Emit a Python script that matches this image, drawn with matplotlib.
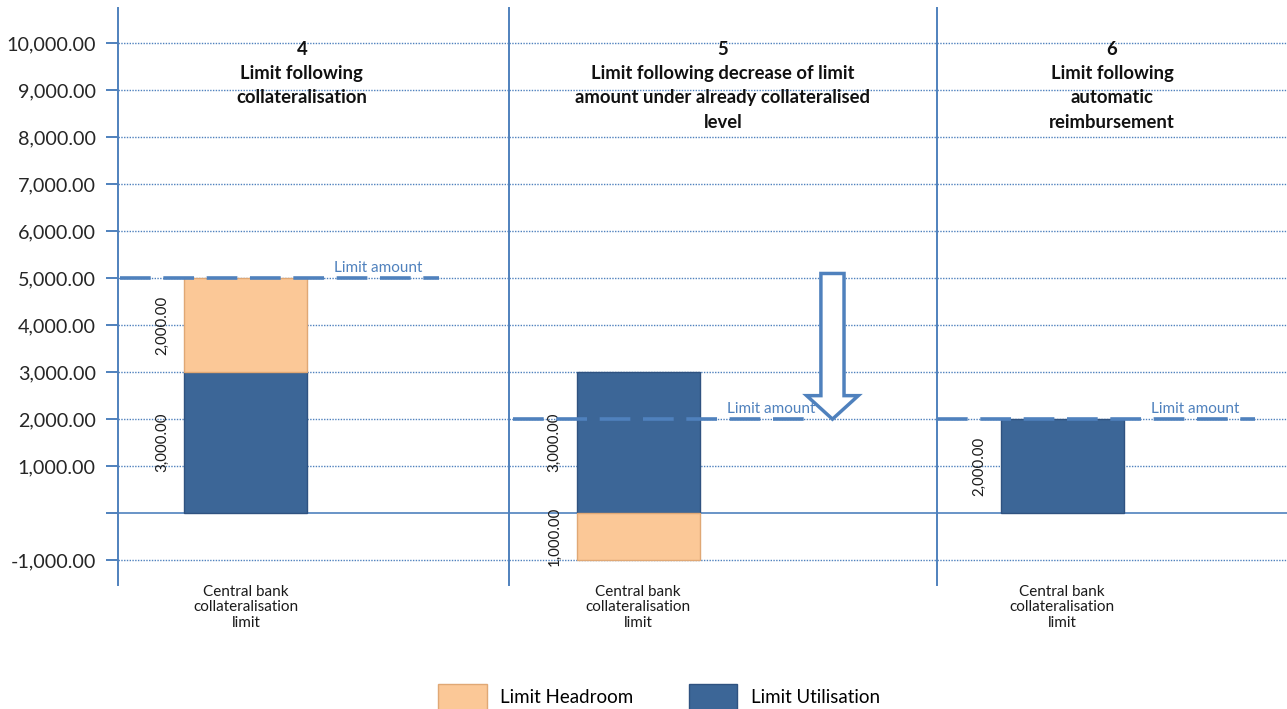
import matplotlib
matplotlib.use("Agg")
import matplotlib.pyplot as plt
from matplotlib.patches import Patch, Polygon

# ---------------- data ----------------
panel_titles = [
    "4\nLimit following\ncollateralisation",
    "5\nLimit following decrease of limit\namount under already collateralised\nlevel",
    "6\nLimit following\nautomatic\nreimbursement",
]
category = "Central bank\ncollateralisation\nlimit"
utilisation = [3000, 3000, 2000]
headroom = [2000, -1000, 0]
limit_amount = [5000, 2000, 2000]
previous_limit = 5100   # top of the "decrease" arrow in panel 5
y_ticks = list(range(-1000, 10001, 1000))
y_tick_labels = ["" if v == 0 else f"{v:,.2f}" for v in y_ticks]

# ---------------- style ----------------
BLUE = "#3c6697"
PEACH = "#fbc897"
LINE = "#4f81bd"
plt.rcParams["font.family"] = ["Lato", "DejaVu Sans"]

fig = plt.figure(figsize=(12.87, 7.09), dpi=100)
gs = fig.add_gridspec(1, 3, width_ratios=[391, 428, 350], wspace=0,
                      left=118/1287, right=1.0, top=1-8/709, bottom=1-585/709)
axes = [fig.add_subplot(gs[0, i]) for i in range(3)]

xlims = [(-1.04, 2.14), (-1.05, 2.43), (-1.02, 1.83)]

for i, ax in enumerate(axes):
    ax.set_xlim(*xlims[i])
    ax.set_ylim(-1530, 10750)
    ax.set_yticks(y_ticks)
    for v in y_ticks:
        if v != 0:
            ax.axhline(v, color=LINE, lw=1.0, ls=(0, (1, 1)), zorder=0.5)
    ax.axhline(0, color=LINE, lw=1.2, zorder=0.6)
    for s in ["top", "right", "bottom"]:
        ax.spines[s].set_visible(False)
    ax.spines["left"].set_color(LINE)
    ax.spines["left"].set_linewidth(1.4)
    if i == 0:
        ax.set_yticklabels(y_tick_labels, fontsize=14.2, color="#262626")
        ax.tick_params(axis="y", length=9, width=1.4, color=LINE, pad=7)
    else:
        ax.tick_params(axis="y", length=0, labelleft=False)

    # bars
    u, h = utilisation[i], headroom[i]
    ax.bar([0], [u], width=1.0, color=BLUE, edgecolor="#2f5280", lw=1.0, zorder=2)
    if h != 0:
        bottom = u if h > 0 else 0
        ax.bar([0], [h], bottom=bottom, width=1.0, color=PEACH,
               edgecolor="#e0a875", lw=1.0, zorder=2)
        ax.text(-0.68, bottom + h / 2, f"{abs(h):,.2f}", rotation=90,
                ha="center", va="center", fontsize=10.8, color="#1a1a1a", zorder=3)
    ax.text(-0.68, u / 2, f"{u:,.2f}", rotation=90, ha="center", va="center",
            fontsize=10.8, color="#1a1a1a", zorder=3)

    # limit amount
    lim = limit_amount[i]
    ax.plot([-1.02, 1.57 if i != 1 else 1.44], [lim, lim], color=LINE, lw=2.6,
            ls=(0, (8.5, 3.5)), zorder=4)
    ax.text(1.08, lim + 60, "Limit amount", ha="center", va="bottom",
            fontsize=11, color=LINE, zorder=4)

    # x category
    ax.set_xticks([0])
    ax.set_xticklabels([category], fontsize=11, color="#1a1a1a", linespacing=1.12)
    ax.tick_params(axis="x", length=0, pad=0)

    # title
    ax.text(0.5 if i != 0 else 0.47, 0.943, panel_titles[i], transform=ax.transAxes,
            ha="center", va="top", fontsize=13.3, fontweight="bold",
            linespacing=1.52, color="#111111")

# decrease arrow in panel 5
ax = axes[1]
xc = 1.58
sw, hw = 0.094, 0.21
head = 500
pts = [(xc - sw, previous_limit), (xc + sw, previous_limit), (xc + sw, limit_amount[1] + head),
       (xc + hw, limit_amount[1] + head), (xc, limit_amount[1]),
       (xc - hw, limit_amount[1] + head), (xc - sw, limit_amount[1] + head)]
ax.add_patch(Polygon(pts, closed=True, facecolor="white", edgecolor=LINE, lw=2.5, zorder=5))

# legend
handles = [Patch(facecolor=PEACH, edgecolor="#e0a875", label="Limit Headroom"),
           Patch(facecolor=BLUE, edgecolor="#2f5280", label="Limit Utilisation")]
fig.legend(handles=handles, loc="center", bbox_to_anchor=(0.512, 0.017), ncol=2,
           frameon=False, fontsize=13.5, handlelength=2.6, handleheight=1.8,
           columnspacing=2.95, handletextpad=0.7)

fig.savefig("out.png", dpi=100)
